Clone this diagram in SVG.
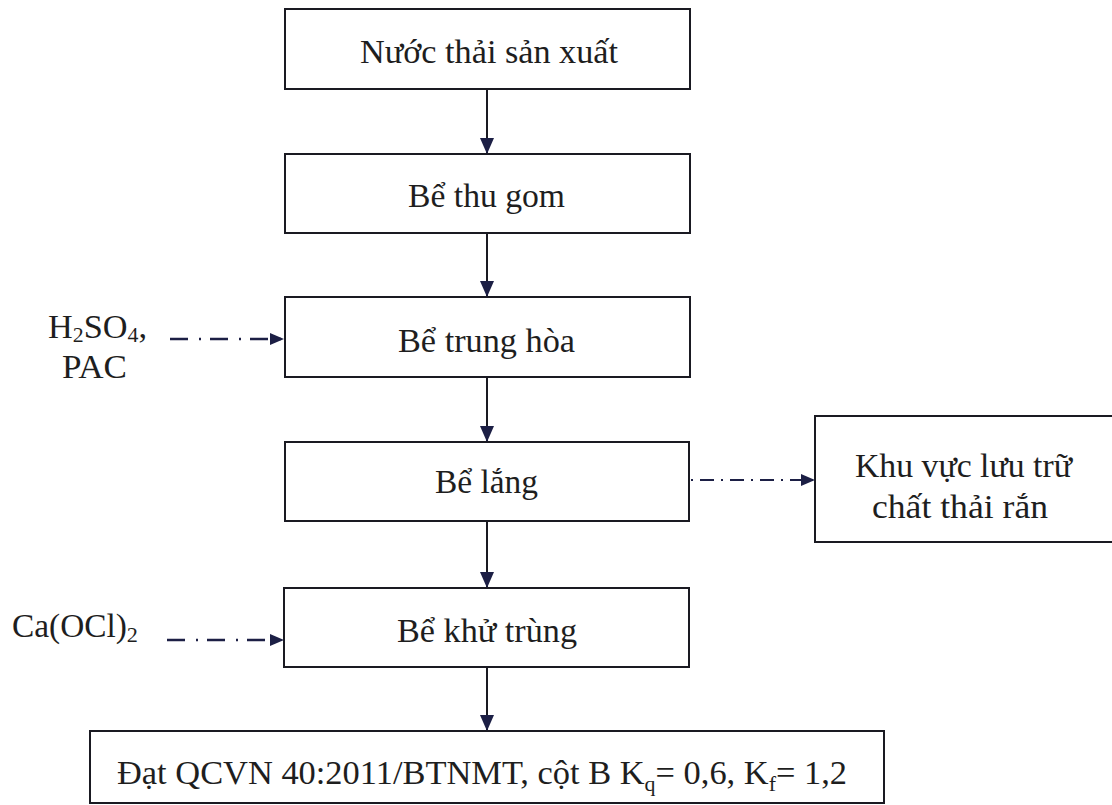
<svg xmlns="http://www.w3.org/2000/svg" width="1112" height="805" viewBox="0 0 1112 805">
<defs>
<marker id="ah" markerUnits="userSpaceOnUse" markerWidth="18" markerHeight="18" viewBox="0 0 18 18" refX="16" refY="9" orient="auto">
<path d="M0,2 L16,9 L0,16 Z" fill="#1c1f45"/>
</marker>
<marker id="ahs" markerUnits="userSpaceOnUse" markerWidth="16" markerHeight="16" viewBox="0 0 16 16" refX="14" refY="8" orient="auto">
<path d="M0,2 L14,8 L0,14 Z" fill="#1c1f45"/>
</marker>
<style>
.box{fill:#fff;stroke:#1a1a22;stroke-width:2}
.t{font-family:"Liberation Serif","Times New Roman","DejaVu Serif",serif;font-size:33px;fill:#1e1e1e}
.ln{stroke:#1a1a22;stroke-width:2;fill:none}
.dd{stroke:#1c1f45;stroke-width:2.4;fill:none;stroke-dasharray:18 11 2 9}
.dd2{stroke:#1c1f45;stroke-width:2.2;fill:none;stroke-dasharray:2 7 14 7}
</style>
</defs>
<rect width="1112" height="805" fill="#fff"/>
<g id="n1"><rect class="box" x="285" y="9" width="405" height="80"/><text class="t" x="360" y="63" textLength="258" lengthAdjust="spacingAndGlyphs">Nước thải sản xuất</text></g>
<g id="n2"><rect class="box" x="285" y="154" width="405" height="79"/><text class="t" x="408" y="207" textLength="157" lengthAdjust="spacingAndGlyphs">Bể thu gom</text></g>
<g id="n3"><rect class="box" x="285" y="297" width="405" height="80"/><text class="t" x="398" y="352" textLength="177" lengthAdjust="spacingAndGlyphs">Bể trung hòa</text></g>
<g id="n4"><rect class="box" x="285" y="442" width="404" height="79"/><text class="t" x="435" y="493" textLength="103" lengthAdjust="spacingAndGlyphs">Bể lắng</text></g>
<g id="n5"><rect class="box" x="284" y="588" width="405" height="79"/><text class="t" x="397" y="642" textLength="180" lengthAdjust="spacingAndGlyphs">Bể khử trùng</text></g>
<g id="n6"><rect class="box" x="815" y="416" width="310" height="126"/><text class="t" x="855" y="477" textLength="217" lengthAdjust="spacingAndGlyphs">Khu vực lưu trữ</text><text class="t" x="872" y="518" textLength="176" lengthAdjust="spacingAndGlyphs">chất thải rắn</text></g>
<g id="n7"><rect class="box" x="90" y="731" width="794" height="72"/><text class="t" x="117" y="784" textLength="730" lengthAdjust="spacingAndGlyphs">Đạt QCVN 40:2011/BTNMT, cột B K<tspan font-size="21" dy="7">q</tspan><tspan dy="-7">= 0,6, K</tspan><tspan font-size="21" dy="7">f</tspan><tspan dy="-7">= 1,2</tspan></text></g>
<g id="in1"><text class="t" x="48" y="338" textLength="99" lengthAdjust="spacingAndGlyphs">H<tspan font-size="21" dy="4">2</tspan><tspan dy="-4">SO</tspan><tspan font-size="21" dy="4">4</tspan><tspan dy="-4">,</tspan></text><text class="t" x="62" y="378" textLength="65" lengthAdjust="spacingAndGlyphs">PAC</text></g>
<g id="in2"><text class="t" x="12" y="637" textLength="126" lengthAdjust="spacingAndGlyphs">Ca(OCl)<tspan font-size="22" dy="5">2</tspan></text></g>
<g id="connectors">
<line class="ln" x1="487" y1="89" x2="487" y2="154" marker-end="url(#ah)"/>
<line class="ln" x1="487" y1="233" x2="487" y2="297" marker-end="url(#ah)"/>
<line class="ln" x1="487" y1="377" x2="487" y2="442" marker-end="url(#ah)"/>
<line class="ln" x1="487" y1="521" x2="487" y2="588" marker-end="url(#ah)"/>
<line class="ln" x1="487" y1="667" x2="487" y2="731" marker-end="url(#ah)"/>
<line class="dd" x1="170" y1="339" x2="284" y2="339" marker-end="url(#ahs)"/>
<line class="dd" x1="167" y1="640" x2="284" y2="640" marker-end="url(#ahs)"/>
<line class="dd2" x1="691" y1="480" x2="815" y2="480" marker-end="url(#ahs)"/>
</g>
</svg>
